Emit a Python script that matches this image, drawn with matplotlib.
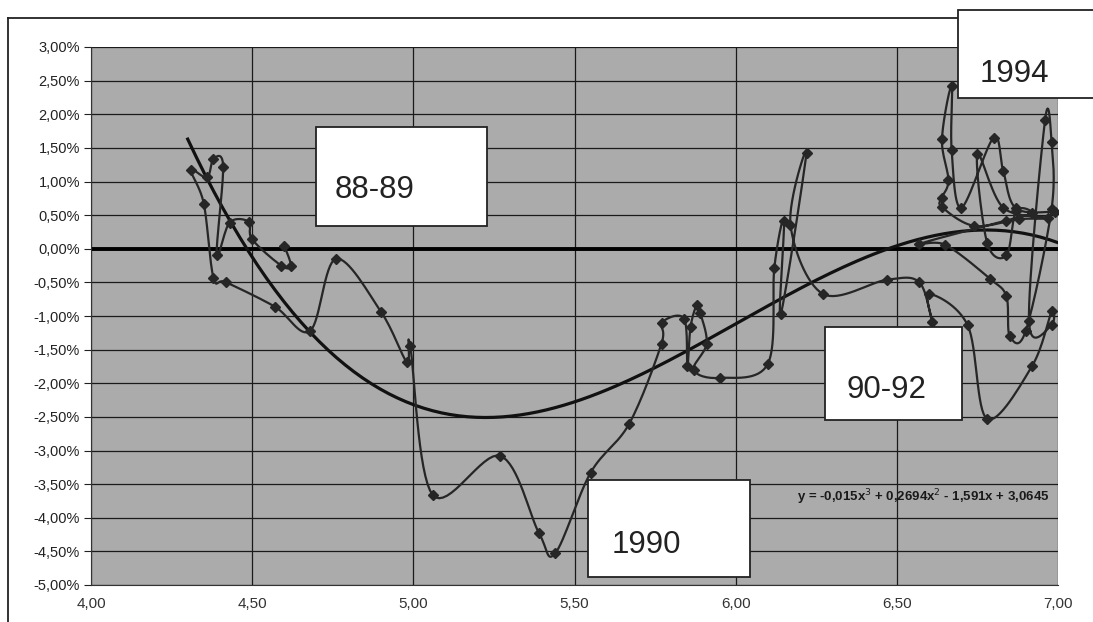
import numpy as np
import matplotlib.pyplot as plt
from matplotlib.patches import Rectangle
from matplotlib.lines import Line2D
from matplotlib.ticker import FuncFormatter

# path of the series (x value, y in percent), in time order
data_x = [4.60, 4.62, 4.59, 4.50, 4.49, 4.43, 4.39, 4.41, 4.38, 4.36, 4.31, 4.35,
          4.38, 4.42, 4.57, 4.68, 4.76, 4.90, 4.98, 4.99, 5.06, 5.27, 5.39, 5.44,
          5.55, 5.67, 5.77, 5.77, 5.84, 5.85, 5.86, 5.88, 5.89, 5.91, 5.87, 5.95,
          6.10, 6.12, 6.15, 6.14, 6.22, 6.17, 6.27, 6.47, 6.57, 6.61, 6.60, 6.72,
          6.78, 6.92, 6.98, 6.98, 6.91, 6.96, 6.98, 6.98, 6.90, 6.85, 6.84, 6.79,
          6.65, 6.57, 6.84, 6.92, 6.87, 6.84, 6.78, 6.75, 6.83, 6.97, 6.88, 6.74,
          6.64, 6.64, 6.66, 6.64, 6.67, 6.67, 6.70, 6.80, 6.83, 6.87, 6.99]
data_y = [0.04, -0.25, -0.25, 0.14, 0.40, 0.39, -0.10, 1.22, 1.34, 1.06, 1.17, 0.67,
          -0.43, -0.50, -0.86, -1.22, -0.15, -0.94, -1.69, -1.44, -3.66, -3.08, -4.23, -4.53,
          -3.33, -2.60, -1.41, -1.10, -1.04, -1.74, -1.16, -0.83, -0.95, -1.41, -1.80, -1.92,
          -1.71, -0.28, 0.42, -0.97, 1.43, 0.36, -0.67, -0.46, -0.50, -1.09, -0.67, -1.14,
          -2.53, -1.74, -0.93, -1.14, -1.07, 1.92, 1.58, 0.59, -1.22, -1.29, -0.71, -0.45,
          0.06, 0.07, 0.42, 0.53, 0.56, -0.10, 0.09, 1.41, 0.61, 0.46, 0.44, 0.34,
          0.62, 0.76, 1.02, 1.63, 2.42, 1.47, 0.61, 1.65, 1.16, 0.60, 0.55]

# points
trend_x = [4.31, 4.49, 4.73, 5.00, 5.21, 5.70, 6.00, 6.50, 6.75, 7.00]
trend_y = [1.50, 0.00, -1.47, -2.36, -2.53, -1.84, -1.11, 0.00, 0.30, 0.09]

y_ticks = np.arange(-5.0, 3.01, 0.5)
x_ticks = np.arange(4.0, 7.01, 0.5)

labels = ['88-89', '1990', '90-92', '1994']
equation = 'y = -0,015x$^3$ + 0,2694x$^2$ - 1,591x + 3,0645'


def smooth(xs, ys, n=16):
    # excel-like smoothed line (catmull-rom / bezier)
    p = np.column_stack([xs, ys])
    p = np.vstack([p[0], p, p[-1]])
    out = []
    t = np.linspace(0, 1, n, endpoint=False)[:, None]
    for i in range(1, len(p) - 2):
        p0, p1, p2, p3 = p[i - 1], p[i], p[i + 1], p[i + 2]
        c1 = p1 + (p2 - p0) / 6
        c2 = p2 - (p3 - p1) / 6
        seg = ((1 - t) ** 3) * p1 + 3 * ((1 - t) ** 2) * t * c1 + 3 * (1 - t) * t ** 2 * c2 + t ** 3 * p2
        out.append(seg)
    out.append(p[-2][None, :])
    out = np.vstack(out)
    return out[:, 0], out[:, 1]


W, H = 1093, 622
fig = plt.figure(figsize=(W / 100, H / 100), dpi=100)
ax = fig.add_axes([91 / W, 1 - 585 / H, (1058 - 91) / W, (585 - 47) / H])
ax.set_facecolor('#ababab')
ax.set_xlim(4.0, 7.0)
ax.set_ylim(-5.0, 3.0)

for v in y_ticks:
    ax.axhline(v, color='#1a1a1a', lw=0.9, zorder=1)
for v in x_ticks:
    ax.axvline(v, color='#1a1a1a', lw=0.9, zorder=1)
ax.axhline(0, color='black', lw=2.8, zorder=2)

# trend line: cubic fit through the read points
coef = np.polyfit(trend_x, trend_y, 3)
tx = np.linspace(4.30, 7.0, 200)
ax.plot(tx, np.polyval(coef, tx), color='#111111', lw=2.3, zorder=3)

sx, sy = smooth(data_x, data_y)
ax.plot(sx, sy, color='#262626', lw=1.6, zorder=4)
ax.plot(data_x, data_y, ls='none', marker='D', ms=4.8, color='#262626', zorder=5)

ax.set_yticks(y_ticks)
ax.set_xticks(x_ticks)
ax.yaxis.set_major_formatter(FuncFormatter(lambda v, p: ('%.2f%%' % v).replace('.', ',')))
ax.xaxis.set_major_formatter(FuncFormatter(lambda v, p: ('%.2f' % v).replace('.', ',')))
ax.tick_params(axis='y', length=5, width=0.8, labelsize=10.5, pad=3, colors='#222222')
ax.tick_params(axis='x', length=0, labelsize=11, pad=9, colors='#333333')
for lab in ax.get_yticklabels():
    lab.set_family(['Liberation Sans', 'DejaVu Sans'])
for lab in ax.get_xticklabels():
    lab.set_family(['Liberation Sans Narrow', 'Liberation Sans', 'DejaVu Sans'])
for s in ['top', 'right']:
    ax.spines[s].set_visible(False)
ax.spines['left'].set_color('#333333')
ax.spines['bottom'].set_color('#333333')


def fx(px):
    return px / W


def fy(py):
    return 1 - py / H


# outer frame of the chart
fig.add_artist(Line2D([fx(8), fx(8)], [0, fy(18)], color='#222222', lw=1.3))
fig.add_artist(Line2D([fx(8), fx(958)], [fy(18), fy(18)], color='#222222', lw=1.3))

# label boxes (left, top, right, bottom in pixels) and text anchor
boxes = [(316, 127, 487, 226, 335, 190),
         (588, 480, 750, 577, 612, 545),
         (825, 327, 962, 420, 846, 390),
         (958, 10, 1100, 98, 980, 74)]
for lab, (l, t, r, b, tx0, ty0) in zip(labels, boxes):
    fig.add_artist(Rectangle((fx(l), fy(b)), fx(r) - fx(l), fy(t) - fy(b),
                             facecolor='white', edgecolor='#222222', lw=1.3, zorder=10))
    fig.text(fx(tx0), fy(ty0), lab, fontsize=22.5, ha='left', va='center',
             family=['Liberation Sans', 'DejaVu Sans'], color='#222222', zorder=11)

fig.text(fx(797), fy(497), equation, fontsize=9.5, fontweight='bold', ha='left', va='center',
         family=['Liberation Sans Narrow', 'Liberation Sans', 'DejaVu Sans'], color='#1a1a1a')

fig.savefig('out.png', dpi=100, facecolor='white')
